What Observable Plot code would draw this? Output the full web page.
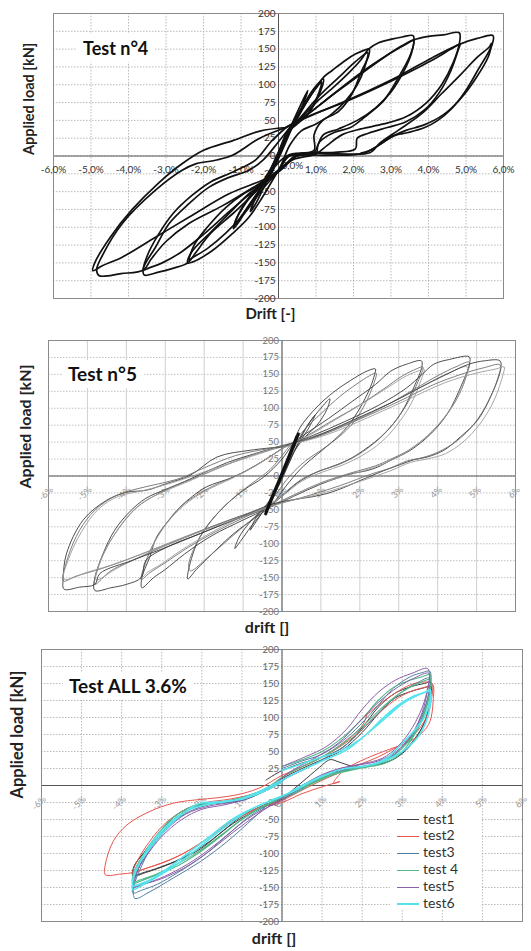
<!DOCTYPE html>
<html><head><meta charset="utf-8">
<script src="https://cdn.jsdelivr.net/npm/d3@7"></script>
<script src="https://cdn.jsdelivr.net/npm/@observablehq/plot@0.6"></script>
<style>
body{margin:0;background:#fff;}
#wrap{position:relative;width:531px;height:951px;overflow:hidden;font-family:Lato,"Open Sans",sans-serif;}
.panel{position:absolute;left:0;}
.title{position:absolute;background:#fff;font-weight:bold;color:#111;line-height:22px;padding:3px 6px;white-space:nowrap;}
.legend{position:absolute;background:#fff;font-size:14px;color:#333;}
.legend .row{position:absolute;left:0;height:17px;line-height:17px;white-space:nowrap;}
.legend .sw{display:inline-block;width:22px;height:0;vertical-align:middle;margin-right:4px;}
</style></head>
<body><div id="wrap"></div>
<script>
// ---------- shared axis data ----------
const xTicks = [-6,-5,-4,-3,-2,-1,0,1,2,3,4,5,6];
const xLabelsComma = ["-6,0%","-5,0%","-4,0%","-3,0%","-2,0%","-1,0%","0,0%","1,0%","2,0%","3,0%","4,0%","5,0%","6,0%"];
const xLabelsPct = ["-6%","-5%","-4%","-3%","-2%","-1%","0%","1%","2%","3%","4%","5%","6%"];
const yTicks = [200,175,150,125,100,75,50,25,0,-25,-50,-75,-100,-125,-150,-175,-200];

// ---------- Test n°4 (drift %, load kN) ----------
const t4Small = [[0,0],[0.15,20],[0.4,50],[0.62,75],[0.78,92],[0.62,68],[0.35,38],[0.1,8],[-0.15,-20],[-0.4,-45],[-0.62,-68],[-0.75,-78],[-0.6,-58],[-0.35,-35],[-0.1,-8],[0.15,22]];
const t4Cycle12a = [[0.15,22],[0.4,48],[0.7,75],[0.95,95],[1.2,108],[1.15,95],[0.95,72],[0.65,52],[0.35,40],[0.1,12],[-0.2,-25],[-0.5,-48],[-0.85,-75],[-1.05,-92],[-1.2,-102],[-1.12,-88],[-0.9,-68],[-0.6,-48],[-0.35,-33],[-0.05,0],[0.25,35]];
const t4Cycle12b = [[0.25,35],[0.5,55],[0.8,80],[1.0,95],[1.15,104],[1.05,85],[0.8,60],[0.5,45],[0.2,30],[-0.1,-10],[-0.35,-35],[-0.7,-62],[-1.0,-85],[-1.18,-98],[-1.05,-80],[-0.75,-55],[-0.45,-38],[-0.15,-12],[0.2,30]];
const t4Cycle24a = [[0.2,30],[0.45,48],[0.8,80],[1.21,111],[1.43,120],[1.78,134],[2.05,143],[2.31,149],[2.42,150],[2.4,140],[2.22,120],[1.96,87],[1.61,63],[1.16,49],[0.95,30],[0.95,8],[0.6,3],[0.25,0],[0,-20],[-0.43,-58],[-0.79,-86],[-1.23,-109],[-1.77,-133],[-2.3,-149],[-2.42,-150],[-2.32,-135],[-1.77,-105],[-1.23,-76],[-0.79,-53],[-0.43,-39],[-0.1,-10],[0.2,30]];
const t4Cycle24b = [[0.2,30],[0.6,55],[1.1,85],[1.6,110],[2.0,130],[2.3,143],[2.38,145],[2.3,125],[2.1,100],[1.8,78],[1.4,58],[1.0,45],[0.6,35],[0.3,15],[0,-20],[-0.4,-45],[-0.9,-80],[-1.4,-108],[-1.9,-130],[-2.3,-143],[-2.38,-146],[-2.25,-125],[-1.9,-100],[-1.4,-72],[-0.9,-52],[-0.5,-40],[-0.2,-20],[0.2,32]];
const t4Cycle36a = [[0.2,32],[0.5,48],[1.0,75],[1.5,98],[1.9,118],[2.2,135],[2.4,150],[2.67,159],[3.02,164],[3.3,167],[3.59,169],[3.61,160],[3.5,140],[3.25,115],[2.81,78],[2.28,54],[1.92,40],[1.48,33],[1.1,20],[0.95,5],[0.5,0],[0.1,-15],[-0.3,-35],[-0.6,-50],[-1.2,-80],[-1.8,-108],[-2.2,-135],[-2.42,-150],[-2.84,-158],[-3.2,-163],[-3.58,-167],[-3.6,-157],[-3.28,-128],[-2.92,-95],[-2.39,-67],[-1.86,-44],[-1.32,-30],[-0.79,-20],[-0.4,-5],[0,20],[0.3,40]];
const t4Cycle36b = [[0.3,40],[0.7,55],[1.3,80],[1.9,105],[2.5,128],[3.0,145],[3.4,157],[3.6,162],[3.55,145],[3.35,120],[3.0,90],[2.6,68],[2.1,50],[1.6,38],[1.2,30],[1.05,15],[1.0,3],[0.5,0],[0.1,-18],[-0.3,-35],[-0.8,-55],[-1.4,-82],[-2.0,-110],[-2.6,-135],[-3.1,-150],[-3.45,-157],[-3.6,-160],[-3.5,-140],[-3.2,-110],[-2.8,-80],[-2.3,-55],[-1.8,-36],[-1.2,-22],[-0.6,-5],[-0.2,20],[0.2,40]];
const t4Cycle48a = [[0.2,40],[0.8,60],[1.5,88],[2.2,115],[2.8,138],[3.3,155],[3.6,163],[4.0,168],[4.4,170],[4.82,173],[4.83,160],[4.65,130],[4.35,100],[3.95,75],[3.4,55],[2.8,45],[2.2,38],[1.7,30],[1.3,15],[1.0,3],[0.4,-5],[0,-20],[-0.4,-35],[-0.8,-48],[-1.5,-70],[-2.4,-95],[-3.0,-120],[-3.4,-145],[-3.6,-160],[-4.2,-165],[-4.78,-168],[-4.85,-160],[-4.7,-140],[-4.17,-95],[-3.28,-48],[-2.57,-20],[-2.21,-11],[-1.68,-6],[-1.23,1],[-0.5,25],[0.2,40]];
const t4Cycle48b = [[0.2,40],[0.72,54],[1.87,78],[3.19,110],[4.08,134],[4.6,150],[4.84,157],[4.8,150],[4.6,120],[4.3,90],[3.9,65],[3.4,48],[2.9,40],[2.4,32],[2.1,25],[2.05,10],[1.5,5],[0.5,2],[0,-22],[-0.43,-34],[-1.32,-53],[-2.39,-86],[-3.28,-114],[-4.17,-142],[-4.7,-154],[-4.95,-161],[-4.9,-150],[-4.5,-115],[-3.9,-75],[-3.2,-38],[-2.6,-12],[-2.0,8],[-1.2,22],[-0.5,35],[0.2,40]];
const t4Cycle57a = [[0.2,40],[0.8,55],[2.0,82],[3.2,112],[4.1,138],[4.84,157],[5.3,165],[5.72,169],[5.7,157],[5.31,120],[4.96,89],[4.61,66],[4.25,50],[3.9,40],[3.46,33],[3.11,29],[2.84,21],[2.58,12],[2.31,5],[2.05,2],[1.2,1],[0.3,0],[0,-20],[-0.4,-38]];
const t4Cycle57b = [[-0.4,-38],[-0.1,-15],[0.3,2],[1.5,3],[2.45,5],[2.7,18],[3.19,36],[3.81,59],[4.34,87],[4.87,115],[5.31,139],[5.62,153],[5.68,158],[5.6,140],[5.25,108],[4.85,80],[4.4,58],[3.9,44],[3.4,36],[3.05,28],[2.7,16],[2.4,7],[2.2,4]];

// ---------- Test n°5 ----------
const t5Center = [[-0.42,-56],[-0.2,-25],[0,2],[0.2,30],[0.42,62],[0.3,45],[0.1,18],[-0.1,-10],[-0.4,-52],[-0.25,-30],[0.05,10],[0.38,58],[0.15,25],[-0.38,-50]];
const t5Small = [[0,0],[0.3,40],[0.6,70],[0.85,90],[0.7,72],[0.4,45],[0.1,10],[-0.3,-35],[-0.6,-62],[-0.82,-80],[-0.65,-60],[-0.35,-40],[0,-5],[0.3,35],[0.7,78],[1.0,100],[1.23,114],[1.15,98],[0.9,75],[0.6,58],[0.3,35],[0,0],[-0.4,-45],[-0.8,-75],[-1.05,-95],[-1.21,-107],[-1.1,-90],[-0.85,-70],[-0.55,-52],[-0.25,-30],[0.1,20],[0.3,50]];
const t5Cycle24a = [[0.3,50],[0.47,72],[0.9,102],[1.33,124],[1.76,141],[2.19,155],[2.4,158],[2.38,150],[2.27,131],[2.02,102],[1.67,72],[1.24,48],[0.82,28],[0.47,10],[0.1,-15],[-0.3,-45],[-0.7,-62],[-1.24,-85],[-1.8,-115],[-2.2,-138],[-2.42,-152],[-2.4,-138],[-2.11,-90],[-1.59,-51],[-0.99,-21],[-0.48,-2],[0,25],[0.3,50]];
const t5Cycle24b = [[0.3,50],[0.6,70],[1.0,92],[1.5,118],[1.9,135],[2.25,148],[2.42,152],[2.35,135],[2.15,108],[1.85,80],[1.45,57],[1.0,38],[0.6,22],[0.2,0],[-0.2,-30],[-0.6,-55],[-1.1,-80],[-1.6,-105],[-2.0,-125],[-2.35,-140],[-2.4,-132],[-2.2,-100],[-1.8,-65],[-1.3,-35],[-0.8,-12],[-0.3,10],[0.2,45]];
const t5Cycle36a = [[0.2,45],[0.6,62],[1.2,85],[1.8,110],[2.4,135],[2.8,155],[3.2,165],[3.58,170],[3.6,163],[3.39,131],[3.05,92],[2.62,62],[2.1,38],[1.67,23],[1.24,13],[0.9,6],[0.4,-10],[0,-30],[-0.4,-48],[-1.0,-65],[-1.8,-88],[-2.5,-115],[-3.0,-138],[-3.3,-150],[-3.6,-165],[-3.6,-150],[-3.4,-120],[-3.22,-90],[-2.9,-65],[-2.62,-46],[-2.3,-30],[-1.94,-16],[-1.25,-1.5],[-0.7,15],[0,40]];
const t5Cycle36b = [[0,40],[0.6,58],[1.3,82],[2.0,105],[2.6,128],[3.1,148],[3.45,158],[3.62,161],[3.5,140],[3.25,110],[2.9,80],[2.5,55],[2.0,33],[1.5,18],[1.0,8],[0.5,-5],[0,-28],[-0.4,-46],[-1.0,-62],[-1.7,-82],[-2.4,-105],[-3.0,-128],[-3.4,-143],[-3.62,-153],[-3.55,-135],[-3.35,-105],[-3.0,-72],[-2.6,-45],[-2.1,-25],[-1.6,-10],[-1.0,5],[-0.4,25],[0.1,45]];
const t5Cycle36c = [[0.1,45],[0.7,60],[1.4,84],[2.1,108],[2.7,130],[3.2,148],[3.5,155],[3.65,158],[3.55,138],[3.3,105],[2.95,75],[2.55,50],[2.05,30],[1.55,16],[1.05,6],[0.5,-8],[0,-30],[-0.5,-48],[-1.2,-65],[-1.9,-86],[-2.6,-110],[-3.1,-130],[-3.45,-142],[-3.6,-150],[-3.5,-128],[-3.25,-95],[-2.85,-62],[-2.4,-38],[-1.9,-20],[-1.3,-4],[-0.6,18],[0,40]];
const t5Cycle48a = [[0.1,45],[0.8,60],[1.6,80],[2.5,105],[3.2,130],[3.6,150],[3.9,165],[4.3,172],[4.81,176],[4.82,166],[4.59,131],[4.25,92],[3.82,62],[3.3,38],[2.79,23],[2.45,13],[2.19,8],[1.76,3],[1.0,-12],[0.3,-30],[-0.3,-46],[-1.2,-64],[-2.1,-85],[-2.96,-105],[-3.5,-125],[-3.62,-150],[-4.0,-160],[-4.4,-165],[-4.81,-169],[-4.82,-153],[-4.6,-115],[-4.3,-80],[-3.9,-52],[-3.5,-33],[-3.0,-20],[-2.5,-8],[-2.0,5],[-1.4,20],[-0.7,33],[0,45]];
const t5Cycle48b = [[0,45],[0.8,58],[1.7,78],[2.6,102],[3.4,128],[4.0,148],[4.5,162],[4.81,168],[4.75,150],[4.55,120],[4.2,88],[3.75,60],[3.25,38],[2.8,25],[2.4,15],[1.8,5],[1.0,-10],[0.3,-28],[-0.3,-44],[-1.2,-62],[-2.1,-82],[-2.96,-102],[-3.82,-124],[-4.4,-140],[-4.81,-160],[-4.75,-140],[-4.5,-105],[-4.1,-70],[-3.7,-45],[-3.3,-30],[-2.8,-16],[-2.2,-2],[-1.5,15],[-0.8,30],[0,43]];
const t5Cycle48c = [[0,43],[0.8,56],[1.8,80],[2.8,108],[3.6,132],[4.2,150],[4.76,161],[4.7,142],[4.45,110],[4.05,78],[3.6,52],[3.1,32],[2.6,18],[2.1,8],[1.5,-2],[0.8,-15],[0.2,-32],[-0.3,-44],[-1.3,-64],[-2.3,-86],[-3.3,-110],[-4.2,-135],[-4.78,-153],[-4.7,-130],[-4.4,-95],[-4.0,-62],[-3.6,-40],[-3.0,-22],[-2.4,-8],[-1.7,10],[-0.9,28],[0,44]];
const t5Cycle56a = [[0,44],[0.8,57],[1.8,82],[2.8,108],[3.7,135],[4.3,152],[4.8,165],[5.2,170],[5.6,170],[5.62,158],[5.36,117],[5.02,82],[4.59,58],[4.16,38],[3.73,28],[3.39,24],[3.05,17],[2.62,8],[2.2,-2],[1.15,-26],[-0.22,-41],[-1.24,-65],[-2.1,-85],[-2.96,-105],[-3.82,-124],[-4.68,-144],[-4.81,-160],[-5.2,-164],[-5.6,-167],[-5.62,-150],[-5.54,-115],[-5.11,-65],[-4.51,-36],[-3.99,-24],[-3.48,-21],[-2.96,-11],[-2.36,1],[-1.67,28],[-0.82,38],[0,43]];
const t5Cycle56b = [[0,43],[1.0,60],[2.0,84],[3.0,110],[3.9,135],[4.6,150],[5.2,160],[5.6,164],[5.55,145],[5.3,110],[4.95,78],[4.5,52],[4.0,35],[3.6,27],[3.2,22],[2.8,12],[2.3,3],[1.5,-14],[0.5,-32],[-0.3,-44],[-1.5,-68],[-2.6,-92],[-3.6,-115],[-4.6,-136],[-5.3,-148],[-5.62,-155],[-5.5,-120],[-5.2,-80],[-4.8,-50],[-4.3,-30],[-3.8,-20],[-3.2,-12],[-2.6,-3],[-2.0,12],[-1.2,30],[-0.4,40],[0.2,46]];
const t5Cycle56c = [[0.2,46],[1.2,62],[2.2,86],[3.2,112],[4.2,138],[5.0,152],[5.5,158],[5.71,161],[5.68,150],[5.45,112],[5.1,78],[4.65,50],[4.2,33],[3.8,26],[3.3,20],[2.8,8],[2.0,-8],[1.0,-26],[0,-40],[-1.0,-60],[-2.1,-82],[-3.2,-106],[-4.2,-128],[-5.0,-142],[-5.6,-152],[-5.5,-125],[-5.15,-82],[-4.7,-48],[-4.2,-30],[-3.6,-22],[-3.0,-13],[-2.4,-2],[-1.8,10],[-1.0,25],[-0.3,38]];

// ---------- Test ALL 3.6% ----------
const test1 = [[-0.4,8],[0,22],[0.5,33],[1.0,42],[1.5,55],[2.0,85],[2.4,115],[2.8,135],[3.2,145],[3.55,150],[3.72,152],[3.7,130],[3.6,100],[3.4,75],[3.1,52],[2.7,36],[2.3,30],[1.8,28],[1.4,35],[1.2,38],[0.9,25],[0.5,5],[0,-18],[-0.5,-30],[-1.0,-45],[-1.5,-68],[-2.0,-92],[-2.5,-108],[-3.0,-120],[-3.4,-128],[-3.72,-133],[-3.7,-120],[-3.4,-95],[-3.0,-65],[-2.6,-42],[-2.1,-28],[-1.6,-26],[-1.0,-22],[-0.5,-10],[0,10],[0.5,25],[1.0,38],[1.5,52],[2.0,78],[2.4,105],[2.8,128],[3.2,138],[3.5,143],[3.72,145],[3.68,120],[3.55,92],[3.3,68],[3.0,48],[2.6,34],[2.1,28],[1.6,24],[1.0,14],[0.5,0],[0,-20],[-0.6,-35],[-1.2,-55],[-1.8,-82],[-2.4,-104],[-2.9,-117],[-3.4,-127],[-3.7,-131],[-3.68,-118],[-3.3,-90],[-2.8,-58],[-2.3,-33],[-1.8,-26],[-1.2,-23],[-0.6,-12],[0,5]];
const test2 = [[0,12],[0.5,28],[1.0,42],[1.5,62],[2.0,88],[2.11,104],[2.0,98],[2.4,118],[2.8,135],[3.2,148],[3.5,152],[3.75,150],[3.77,124],[3.69,94],[3.52,79],[3.19,65],[2.53,50],[2.11,40],[1.61,25],[1.36,11],[1.28,3],[1.45,6],[1.0,-2],[0.5,-12],[0,-25],[-0.6,-33],[-1.2,-50],[-1.8,-75],[-2.4,-98],[-2.9,-112],[-3.4,-122],[-3.71,-128],[-4.0,-130],[-4.41,-131],[-4.41,-117],[-4.21,-82],[-3.87,-58],[-3.29,-38],[-2.71,-26],[-2.13,-21],[-1.6,-18],[-1.0,-12],[-0.5,-2],[0,15],[0.6,30],[1.2,48],[1.8,72],[2.3,100],[2.8,125],[3.2,138],[3.6,145],[3.75,147],[3.72,125],[3.6,100],[3.3,75],[2.9,58],[2.4,42],[1.9,30],[1.4,18],[0.9,5],[0.4,-10],[0,-22],[-0.6,-34],[-1.3,-55],[-2.0,-84],[-2.6,-104],[-3.1,-116],[-3.5,-124],[-3.72,-128],[-3.6,-110],[-3.3,-82],[-2.9,-55],[-2.4,-35],[-1.9,-25],[-1.3,-20],[-0.6,-10],[0,8]];
const test3 = [[0,25],[0.5,36],[1.0,46],[1.5,65],[1.95,89],[2.4,118],[2.78,143],[3.2,160],[3.5,166],[3.69,168],[3.7,150],[3.6,120],[3.4,88],[3.1,62],[2.7,42],[2.2,30],[1.7,24],[1.2,15],[0.7,2],[0.2,-15],[-0.3,-26],[-0.71,-48],[-1.38,-83],[-2.04,-112],[-2.71,-136],[-3.29,-156],[-3.67,-166],[-3.7,-150],[-3.5,-118],[-3.2,-85],[-2.8,-58],[-2.3,-38],[-1.8,-28],[-1.2,-22],[-0.6,-10],[0,8],[0.5,22],[1.0,38],[1.6,60],[2.1,88],[2.6,118],[3.0,138],[3.4,152],[3.68,158],[3.66,135],[3.5,105],[3.25,75],[2.9,50],[2.5,35],[2.0,28],[1.4,20],[0.8,6],[0.3,-10],[-0.2,-24],[-0.8,-45],[-1.4,-75],[-2.0,-105],[-2.6,-128],[-3.1,-145],[-3.5,-154],[-3.72,-158],[-3.68,-140],[-3.45,-105],[-3.1,-72],[-2.6,-45],[-2.1,-30],[-1.5,-25],[-0.9,-18],[-0.3,-5],[0.2,15]];
const test4 = [[0,28],[0.5,38],[1.0,50],[1.5,70],[2.0,98],[2.4,125],[2.8,145],[3.2,155],[3.5,160],[3.7,163],[3.7,142],[3.58,112],[3.35,80],[3.0,55],[2.6,36],[2.1,28],[1.6,22],[1.1,14],[0.6,0],[0.1,-16],[-0.5,-32],[-1.0,-50],[-1.6,-78],[-2.1,-100],[-2.6,-118],[-3.1,-131],[-3.5,-140],[-3.72,-144],[-3.7,-128],[-3.4,-96],[-3.0,-64],[-2.6,-42],[-2.1,-28],[-1.5,-24],[-0.9,-16],[-0.4,-4],[0,12],[0.4,25],[1.0,42],[1.6,65],[2.1,92],[2.6,120],[3.0,138],[3.4,150],[3.7,156],[3.68,132],[3.52,100],[3.28,72],[2.94,46],[2.53,32],[2.11,27],[1.7,22],[1.28,16],[0.8,4],[0.3,-12],[-0.2,-22],[-0.9,-45],[-1.5,-72],[-2.1,-98],[-2.7,-118],[-3.2,-132],[-3.55,-139],[-3.72,-142],[-3.6,-118],[-3.29,-90],[-2.8,-58],[-2.2,-32],[-1.6,-25],[-1.0,-20],[-0.5,-9],[0,6]];
const test5 = [[0,28],[0.61,43],[1.1,57],[1.6,82],[2.0,112],[2.42,138],[2.83,155],[3.24,165],[3.63,172],[3.68,160],[3.6,130],[3.45,100],[3.2,72],[2.85,50],[2.4,36],[1.9,30],[1.4,24],[0.9,12],[0.4,-6],[0,-22],[-0.5,-36],[-1.0,-55],[-1.6,-84],[-2.2,-110],[-2.8,-130],[-3.3,-142],[-3.7,-148],[-3.68,-132],[-3.4,-105],[-3.0,-75],[-2.5,-50],[-2.0,-35],[-1.4,-28],[-0.8,-18],[-0.3,-2],[0.2,20],[0.8,40],[1.4,62],[1.9,92],[2.4,122],[2.9,145],[3.3,158],[3.66,165],[3.64,145],[3.5,115],[3.25,85],[2.9,58],[2.5,40],[2.0,32],[1.5,26],[1.0,16],[0.5,0],[0,-18],[-0.6,-42],[-1.2,-68],[-1.8,-96],[-2.4,-120],[-3.0,-137],[-3.5,-146],[-3.72,-150],[-3.6,-125],[-3.3,-95],[-2.9,-66],[-2.4,-42],[-1.8,-30],[-1.2,-24],[-0.6,-12],[0,5]];
const test6 = [[0,22],[0.5,32],[1.0,42],[1.5,52],[2.0,70],[2.5,98],[2.9,118],[3.3,132],[3.6,138],[3.7,141],[3.69,125],[3.55,100],[3.36,85],[3.0,62],[2.6,40],[2.2,30],[1.7,26],[1.28,20],[0.8,8],[0.3,-8],[-0.2,-20],[-0.8,-36],[-1.4,-60],[-2.0,-88],[-2.6,-115],[-3.1,-134],[-3.5,-147],[-3.72,-153],[-3.7,-135],[-3.5,-108],[-3.2,-80],[-2.8,-55],[-2.3,-35],[-1.8,-27],[-1.2,-22],[-0.6,-10],[0,8],[0.4,20],[1.0,36],[1.6,52],[2.1,75],[2.6,100],[3.0,120],[3.4,133],[3.7,138],[3.7,118],[3.6,95],[3.4,72],[3.0,50],[2.5,35],[2.03,28],[1.5,24],[1.0,14],[0.5,0],[0,-16],[-0.6,-30],[-1.2,-48],[-1.8,-75],[-2.4,-102],[-2.9,-124],[-3.3,-139],[-3.6,-146],[-3.71,-148],[-3.68,-128],[-3.29,-92],[-2.71,-53],[-2.13,-28],[-1.6,-24],[-1.0,-20],[-0.5,-10],[0,5]];
const allNames = ["test1","test2","test3","test 4","test5","test6"];
const allColors = ["#3d3d3d","#e8554f","#4f7fa3","#52b788","#8a5fa8","#55e4ee"];
const allWidths = [1,1,1,1.1,1,1.6];
const allSeries = [test1,test2,test3,test4,test5,test6];

// ---------- helpers ----------
const wrap = document.getElementById("wrap");
const FONT = "Lato, 'Open Sans', sans-serif";
const lineOf = (pts, stroke, w, curve = "catmull-rom") =>
  Plot.line(pts, {x: d => d[0], y: d => d[1], stroke, strokeWidth: w, curve, strokeLinejoin: "round", strokeLinecap: "round"});

function panel({top, height, mt, mb, ml, mr, marks}) {
  const svg = Plot.plot({
    width: 531, height, marginTop: mt, marginBottom: mb, marginLeft: ml, marginRight: mr,
    x: {domain: [-6, 6], axis: null}, y: {domain: [-200, 200], axis: null},
    style: {fontFamily: FONT, background: "transparent", overflow: "visible"},
    marks
  });
  const d = document.createElement("div");
  d.className = "panel"; d.style.top = top + "px";
  d.appendChild(svg); wrap.appendChild(d);
}
function addTitle(text, left, top, size) {
  const t = document.createElement("div");
  t.className = "title"; t.textContent = text;
  t.style.left = (left - 6) + "px"; t.style.top = (top - 3) + "px"; t.style.fontSize = size + "px";
  wrap.appendChild(t);
}
// x labels of panel 1: the 0 label sits right of the vertical axis so it does not collide with "-25"
const xLabelTicks1 = xTicks.filter(d => d !== 0);
const xLabelsComma1 = xLabelsComma.filter((d, i) => xTicks[i] !== 0);

// ---------- Panel 1 ----------
panel({
  top: 0, height: 330, mt: 13, mb: 32, ml: 53, mr: 28,
  marks: [
    Plot.ruleY(yTicks, {stroke: "#a8a8a8", strokeWidth: 0.8, strokeDasharray: "1.5,1.5"}),
    Plot.ruleX(xTicks, {stroke: "#a8a8a8", strokeWidth: 0.8, strokeDasharray: "1.5,1.5"}),
    Plot.ruleY([0], {stroke: "#555", strokeWidth: 1}),
    Plot.ruleX([0], {stroke: "#555", strokeWidth: 1}),
    Plot.frame({stroke: "#8a8a8a"}),
    Plot.text(yTicks, {x: 0, y: d => d, text: d => String(d), textAnchor: "end", dx: -3, fontSize: 10, fill: "#333"}),
    Plot.text(xLabelTicks1, {x: d => d, y: 0, text: (d, i) => xLabelsComma1[i], dy: 14, fontSize: 10, fill: "#333"}),
    Plot.text([0], {x: d => d, y: 0, text: () => xLabelsComma[6], dx: 3, dy: 10, textAnchor: "start", fontSize: 10, fill: "#333"}),
    ...[t4Small, t4Cycle12a, t4Cycle12b, t4Cycle24a, t4Cycle24b, t4Cycle36a, t4Cycle36b, t4Cycle48a, t4Cycle48b, t4Cycle57a, t4Cycle57b].map(c => lineOf(c, "#111", 1.7)),
    Plot.text(["Drift [-]"], {frameAnchor: "bottom", dx: -8, dy: 20, fontSize: 15, fontWeight: "bold", fill: "#222"}),
    Plot.text(["Applied load [kN]"], {frameAnchor: "left", dx: -24, dy: -1, rotate: -90, fontSize: 14.5, fontWeight: "bold", fill: "#222"})
  ]
});
addTitle("Test n°4", 83, 37, 18);

// ---------- Panel 2 ----------
const shadesA = "#3a3a3a", shadesB = "#707070", shadesC = "#9c9c9c";
panel({
  top: 330, height: 310, mt: 10, mb: 29, ml: 48, mr: 16,
  marks: [
    Plot.ruleY(yTicks, {stroke: "#b0b0b0", strokeWidth: 0.8, strokeDasharray: "1.5,1.5"}),
    Plot.ruleX(xTicks, {stroke: "#cfcfcf", strokeWidth: 1}),
    Plot.ruleY([0], {stroke: "#555", strokeWidth: 1}),
    Plot.ruleX([0], {stroke: "#555", strokeWidth: 1}),
    Plot.frame({stroke: "#8a8a8a"}),
    Plot.text(yTicks, {x: 0, y: d => d, text: d => String(d), textAnchor: "end", dx: -3, fontSize: 9.5, fill: "#777"}),
    Plot.text(xTicks, {x: d => d, y: 0, text: (d, i) => xLabelsPct[i], rotate: -45, textAnchor: "end", dx: 3, dy: 12, fontSize: 9, fill: "#999"}),
    lineOf(t5Small, shadesA, 0.9),
    lineOf(t5Cycle24a, shadesA, 0.9), lineOf(t5Cycle24b, shadesB, 0.9),
    lineOf(t5Cycle36a, shadesA, 0.9), lineOf(t5Cycle36b, shadesB, 0.9), lineOf(t5Cycle36c, shadesC, 0.9),
    lineOf(t5Cycle48a, shadesA, 0.9), lineOf(t5Cycle48b, shadesB, 0.9), lineOf(t5Cycle48c, shadesC, 0.9),
    lineOf(t5Cycle56a, shadesA, 0.9), lineOf(t5Cycle56b, shadesB, 0.9), lineOf(t5Cycle56c, shadesC, 0.9),
    lineOf(t5Center, "#111", 3, "linear"),
    Plot.text(["drift []"], {frameAnchor: "bottom", dx: -15, dy: 21, fontSize: 16, fontWeight: "bold", fill: "#222"}),
    Plot.text(["Applied load [kN]"], {frameAnchor: "left", dx: -23, dy: 12.5, rotate: -90, fontSize: 16, fontWeight: "bold", fill: "#222"})
  ]
});
addTitle("Test n°5", 68, 363, 19);

// ---------- Panel 3 ----------
panel({
  top: 640, height: 311, mt: 9, mb: 30, ml: 41, mr: 9,
  marks: [
    Plot.ruleY(yTicks, {stroke: "#a8a8a8", strokeWidth: 0.8, strokeDasharray: "1.5,1.5"}),
    Plot.ruleX(xTicks, {stroke: "#a8a8a8", strokeWidth: 0.8, strokeDasharray: "1.5,1.5"}),
    Plot.ruleY([0], {stroke: "#555", strokeWidth: 1}),
    Plot.ruleX([0], {stroke: "#555", strokeWidth: 1}),
    Plot.frame({stroke: "#8a8a8a"}),
    Plot.text(yTicks, {x: 0, y: d => d, text: d => String(d), textAnchor: "end", dx: -3, fontSize: 9.5, fill: "#666"}),
    Plot.text(xTicks, {x: d => d, y: 0, text: (d, i) => xLabelsPct[i], rotate: -45, textAnchor: "end", dx: 3, dy: 12, fontSize: 9, fill: "#999"}),
    ...allSeries.map((s, i) => lineOf(s, allColors[i], allWidths[i])),
    Plot.text(["drift []"], {frameAnchor: "bottom", dx: -8, dy: 22, fontSize: 16, fontWeight: "bold", fill: "#222"}),
    Plot.text(["Applied load [kN]"], {frameAnchor: "left", dx: -24, dy: 13, rotate: -90, fontSize: 16.5, fontWeight: "bold", fill: "#222"})
  ]
});
addTitle("Test ALL 3.6%", 69, 675, 19);

// legend
const lg = document.createElement("div");
lg.className = "legend";
lg.style.left = "390px"; lg.style.top = "808px"; lg.style.width = "92px"; lg.style.height = "102px";
allNames.forEach((n, i) => {
  const r = document.createElement("div");
  r.className = "row"; r.style.top = (i * 16.8 + 1.5) + "px"; r.style.left = "7px";
  const sw = document.createElement("span");
  sw.className = "sw"; sw.style.borderTop = (allWidths[i] + 0.4) + "px solid " + allColors[i];
  r.appendChild(sw); r.appendChild(document.createTextNode(n));
  lg.appendChild(r);
});
wrap.appendChild(lg);
</script></body></html>
